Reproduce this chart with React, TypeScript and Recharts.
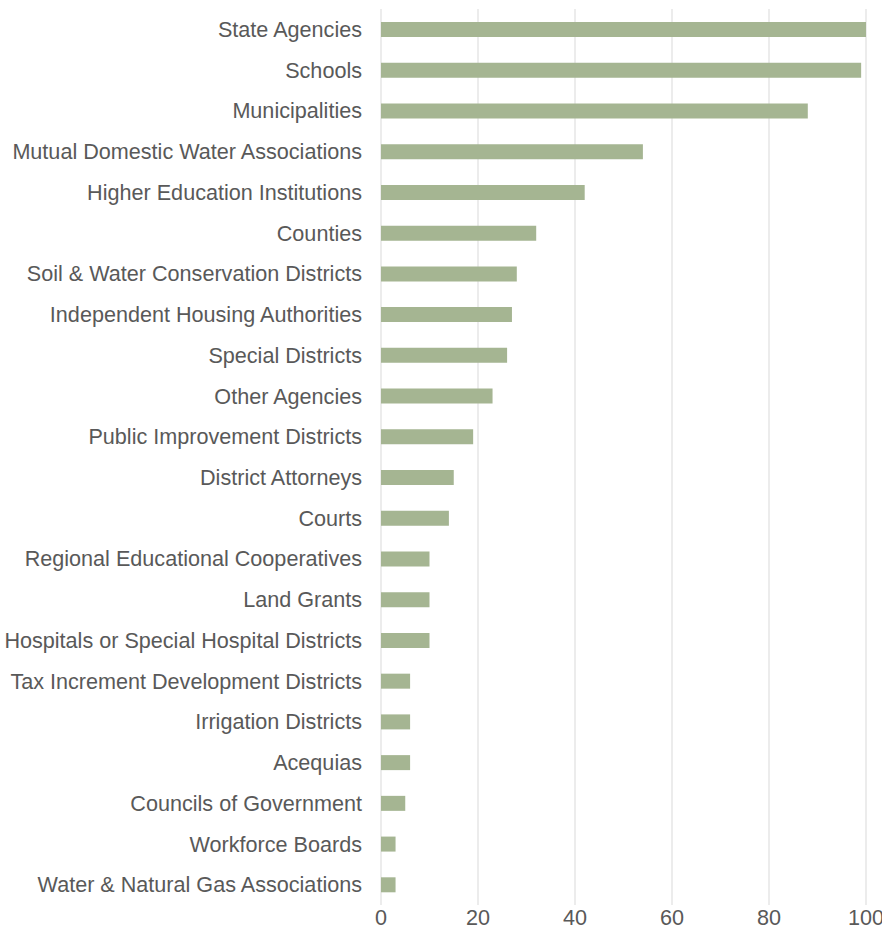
import React from "react";
import { BarChart, Bar, XAxis, YAxis, CartesianGrid } from "recharts";

const categories: string[] = [
  "State Agencies",
  "Schools",
  "Municipalities",
  "Mutual Domestic Water Associations",
  "Higher Education Institutions",
  "Counties",
  "Soil & Water Conservation Districts",
  "Independent Housing Authorities",
  "Special Districts",
  "Other Agencies",
  "Public Improvement Districts",
  "District Attorneys",
  "Courts",
  "Regional Educational Cooperatives",
  "Land Grants",
  "Hospitals or Special Hospital Districts",
  "Tax Increment Development Districts",
  "Irrigation Districts",
  "Acequias",
  "Councils of Government",
  "Workforce Boards",
  "Water & Natural Gas Associations",
];

const counts: number[] = [
  100, 99, 88, 54, 42, 32, 28, 27, 26, 23, 19, 15, 14, 10, 10, 10, 6, 6, 6, 5, 3, 3,
];

const xTicks: number[] = [0, 20, 40, 60, 80, 100];

const chartData = categories.map((name, i) => ({ name, value: counts[i] }));

const tickStyle = {
  fill: "#595959",
  fontSize: 21.6,
  fontFamily: "Liberation Sans",
};

const App: React.FC = () => {
  return (
    <div style={{ position: "absolute", left: 0, top: 0 }}>
      <BarChart
        width={882}
        height={942}
        data={chartData}
        layout="vertical"
        margin={{ top: 9, right: 16, bottom: 0, left: 0 }}
        barCategoryGap="32%"
      >
        <CartesianGrid horizontal={false} stroke="#d9d9d9" strokeWidth={1} />
        <XAxis
          type="number"
          domain={[0, 100]}
          ticks={xTicks}
          axisLine={false}
          tickLine={false}
          tickSize={0}
          tickMargin={5}
          height={37}
          tick={tickStyle}
          interval={0}
        />
        <YAxis
          type="category"
          dataKey="name"
          width={381}
          axisLine={false}
          tickLine={false}
          tickSize={0}
          tickMargin={19}
          tick={tickStyle}
          interval={0}
        />
        <Bar dataKey="value" fill="#a5b592" isAnimationActive={false} />
      </BarChart>
    </div>
  );
};

export default App;
